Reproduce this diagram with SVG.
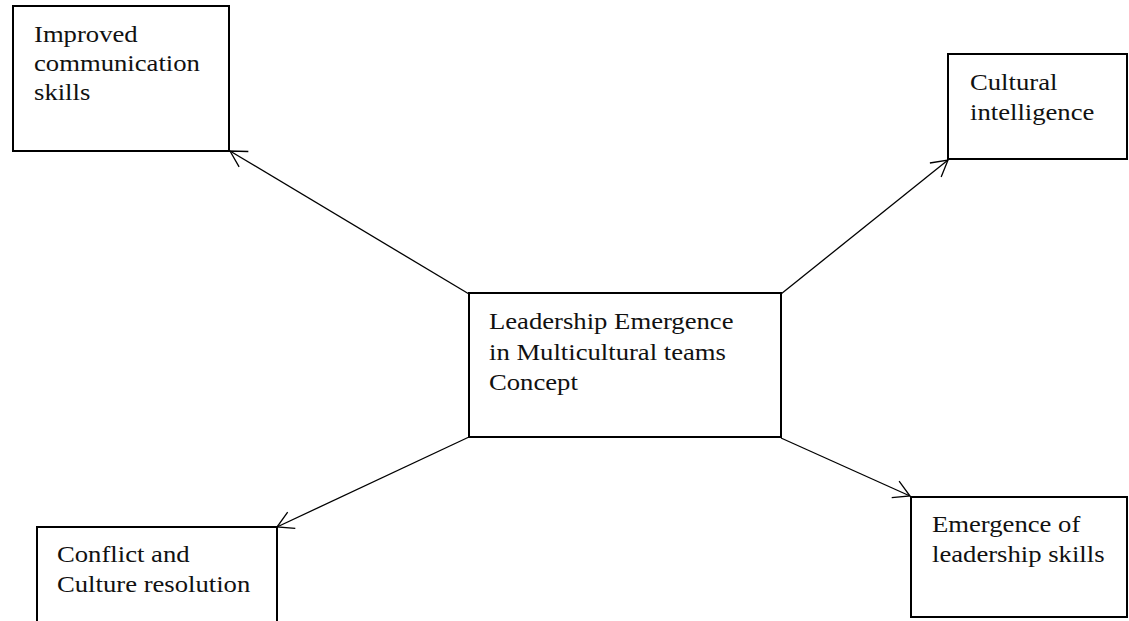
<svg xmlns="http://www.w3.org/2000/svg" width="1129" height="621" viewBox="0 0 1129 621">
  <style>
    .box { fill: #ffffff; stroke: #000000; stroke-width: 2; }
    .label { font-family: "Liberation Serif", "Times New Roman", serif; font-size: 23px; fill: #111111; }
    .edge { fill: none; stroke: #000000; stroke-width: 1.3; }
  </style>
  <defs>
    <marker id="open-arrow" markerUnits="userSpaceOnUse" markerWidth="24" markerHeight="24" viewBox="-20 -12 24 24" refX="0" refY="0" orient="auto">
      <path d="M-16,-9 L0,0 L-16,9" fill="none" stroke="#000000" stroke-width="1.3"/>
    </marker>
  </defs>
  <rect width="1129" height="621" fill="#ffffff"/>

  <!-- connectors from the central concept to each outcome -->
  <g id="connectors">
    <line class="edge" x1="469" y1="294" x2="230" y2="151" marker-end="url(#open-arrow)"/>
    <line class="edge" x1="781" y1="294" x2="948" y2="160" marker-end="url(#open-arrow)"/>
    <line class="edge" x1="469" y1="437" x2="277" y2="527" marker-end="url(#open-arrow)"/>
    <line class="edge" x1="781" y1="438" x2="910" y2="496" marker-end="url(#open-arrow)"/>
  </g>

  <g id="node-communication">
    <rect class="box" x="13" y="6" width="216" height="145"/>
    <text class="label" transform="translate(34,0) scale(1.16,1)">
      <tspan x="0" y="42">Improved</tspan>
      <tspan x="0" y="71">communication</tspan>
      <tspan x="0" y="100">skills</tspan>
    </text>
  </g>

  <g id="node-cultural-intelligence">
    <rect class="box" x="948" y="54" width="179" height="105"/>
    <text class="label" transform="translate(970,0) scale(1.16,1)">
      <tspan x="0" y="90">Cultural</tspan>
      <tspan x="0" y="120">intelligence</tspan>
    </text>
  </g>

  <g id="node-central">
    <rect class="box" x="469" y="293" width="312" height="144"/>
    <text class="label" transform="translate(489,0) scale(1.16,1)">
      <tspan x="0" y="329">Leadership Emergence</tspan>
      <tspan x="0" y="360">in Multicultural teams</tspan>
      <tspan x="0" y="390">Concept</tspan>
    </text>
  </g>

  <g id="node-conflict">
    <rect class="box" x="37" y="527" width="240" height="110"/>
    <text class="label" transform="translate(57,0) scale(1.16,1)">
      <tspan x="0" y="562">Conflict and</tspan>
      <tspan x="0" y="592">Culture resolution</tspan>
    </text>
  </g>

  <g id="node-emergence">
    <rect class="box" x="911" y="497" width="216" height="120"/>
    <text class="label" transform="translate(932,0) scale(1.16,1)">
      <tspan x="0" y="532">Emergence of</tspan>
      <tspan x="0" y="562">leadership skills</tspan>
    </text>
  </g>
</svg>
